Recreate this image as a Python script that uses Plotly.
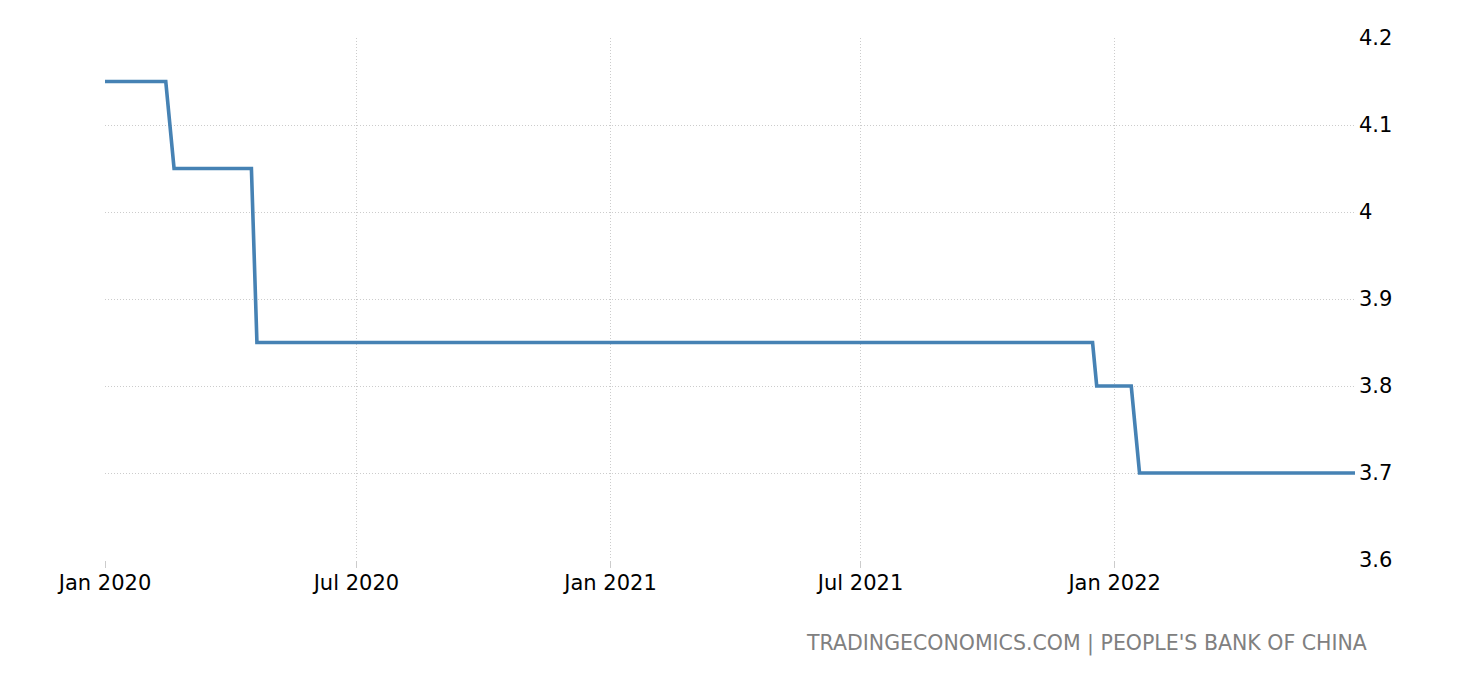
import plotly.graph_objects as go

dates = ["2020-01-01", "2020-02-14", "2020-02-20", "2020-04-16", "2020-04-20",
         "2021-12-16", "2021-12-19", "2022-01-13", "2022-01-19", "2022-06-24"]
values = [4.15, 4.15, 4.05, 4.05, 3.85, 3.85, 3.80, 3.80, 3.70, 3.70]

x_ticks = ["2020-01-01", "2020-07-01", "2021-01-01", "2021-07-01", "2022-01-01"]
x_tick_labels = ["Jan 2020", "Jul 2020", "Jan 2021", "Jul 2021", "Jan 2022"]
y_ticks = [3.6, 3.7, 3.8, 3.9, 4.0, 4.1, 4.2]
y_tick_labels = ["3.6", "3.7", "3.8", "3.9", "4", "4.1", "4.2"]

FONT = "DejaVu Sans"

fig = go.Figure()
fig.add_trace(go.Scatter(
    x=dates, y=values, mode="lines",
    line=dict(color="#4682B4", width=3.6),
    hoverinfo="x+y",
))

fig.update_layout(
    width=1460, height=680,
    margin=dict(l=97, r=113, t=30, b=128),
    paper_bgcolor="white", plot_bgcolor="white",
    showlegend=False,
    font=dict(family=FONT, size=21, color="black"),
    xaxis=dict(
        type="date",
        range=["2020-01-01", dates[-1]],
        tickvals=x_ticks, ticktext=x_tick_labels,
        showgrid=True, gridcolor="#cccccc", griddash="1px,2px", gridwidth=1,
        showline=False, zeroline=False,
        ticks="outside", ticklen=7, tickcolor="#cccccc", tickwidth=1,
        ticklabelstandoff=-3,
        tickfont=dict(family=FONT, size=21, color="black"),
    ),
    yaxis=dict(
        side="right",
        range=[3.6, 4.2],
        tickvals=y_ticks, ticktext=y_tick_labels,
        showgrid=True, gridcolor="#cccccc", griddash="1px,2px", gridwidth=1,
        showline=False, zeroline=False,
        ticks="", ticklabelstandoff=3,
        tickfont=dict(family=FONT, size=21, color="black"),
    ),
    annotations=[dict(
        text="TRADINGECONOMICS.COM | PEOPLE'S BANK OF CHINA",
        xref="paper", yref="paper", x=1.011, y=-0.16,
        xanchor="right", yanchor="middle", showarrow=False,
        font=dict(family=FONT, size=20.5, color="#808080"),
    )],
)

fig.write_html("out.html")
